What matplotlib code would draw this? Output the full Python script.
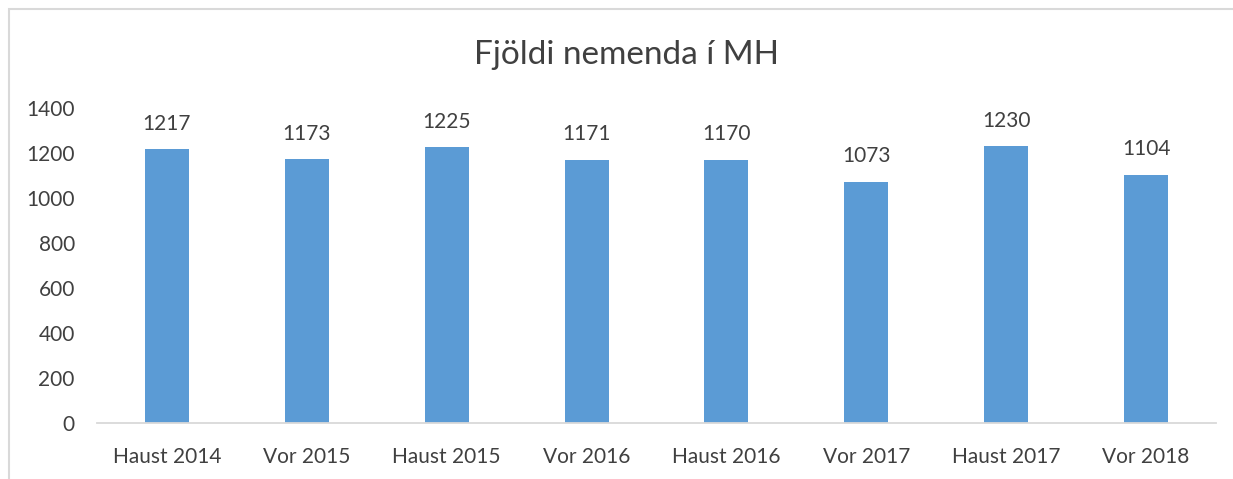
import matplotlib
matplotlib.use('Agg')
import matplotlib.pyplot as plt
from matplotlib.patches import Rectangle

# data
terms = ['Haust 2014', 'Vor 2015', 'Haust 2015', 'Vor 2016',
         'Haust 2016', 'Vor 2017', 'Haust 2017', 'Vor 2018']
students = [1217, 1173, 1225, 1171, 1170, 1073, 1230, 1104]
yticks = [0, 200, 400, 600, 800, 1000, 1200, 1400]

txt = '#404040'
plt.rcParams['font.family'] = ['Lato', 'DejaVu Sans']

fig = plt.figure(figsize=(12.33, 4.79), dpi=100)
ax = fig.add_axes([97 / 1233, 1 - 423 / 479, (1216 - 97) / 1233, (423 - 108) / 479])

bars = ax.bar(range(len(terms)), students, width=0.315, color='#5B9BD5')
ax.bar_label(bars, padding=11, fontsize=15, color=txt)

ax.set_xlim(-0.5, len(terms) - 0.5)
ax.set_ylim(0, 1400)
ax.set_yticks(yticks)
ax.set_xticks(range(len(terms)))
ax.set_xticklabels(terms)
ax.tick_params(axis='both', length=0, labelsize=15, labelcolor=txt)
ax.tick_params(axis='x', pad=17)
ax.tick_params(axis='y', pad=16)

for s in ['top', 'right', 'left']:
    ax.spines[s].set_visible(False)
ax.spines['bottom'].set_color('#D9D9D9')
ax.spines['bottom'].set_linewidth(1.3)

fig.text(627 / 1233, 1 - 55 / 479, 'Fjöldi nemenda í MH', ha='center', va='center',
         fontsize=24, color=txt)

# chart frame (cut off at right and bottom)
fig.patches.append(Rectangle((9 / 1233, -0.1), 1.2, 1 - 9 / 479 + 0.1,
                             transform=fig.transFigure, fill=False,
                             edgecolor='#D9D9D9', linewidth=1.5))

fig.savefig('out.png', dpi=100)
